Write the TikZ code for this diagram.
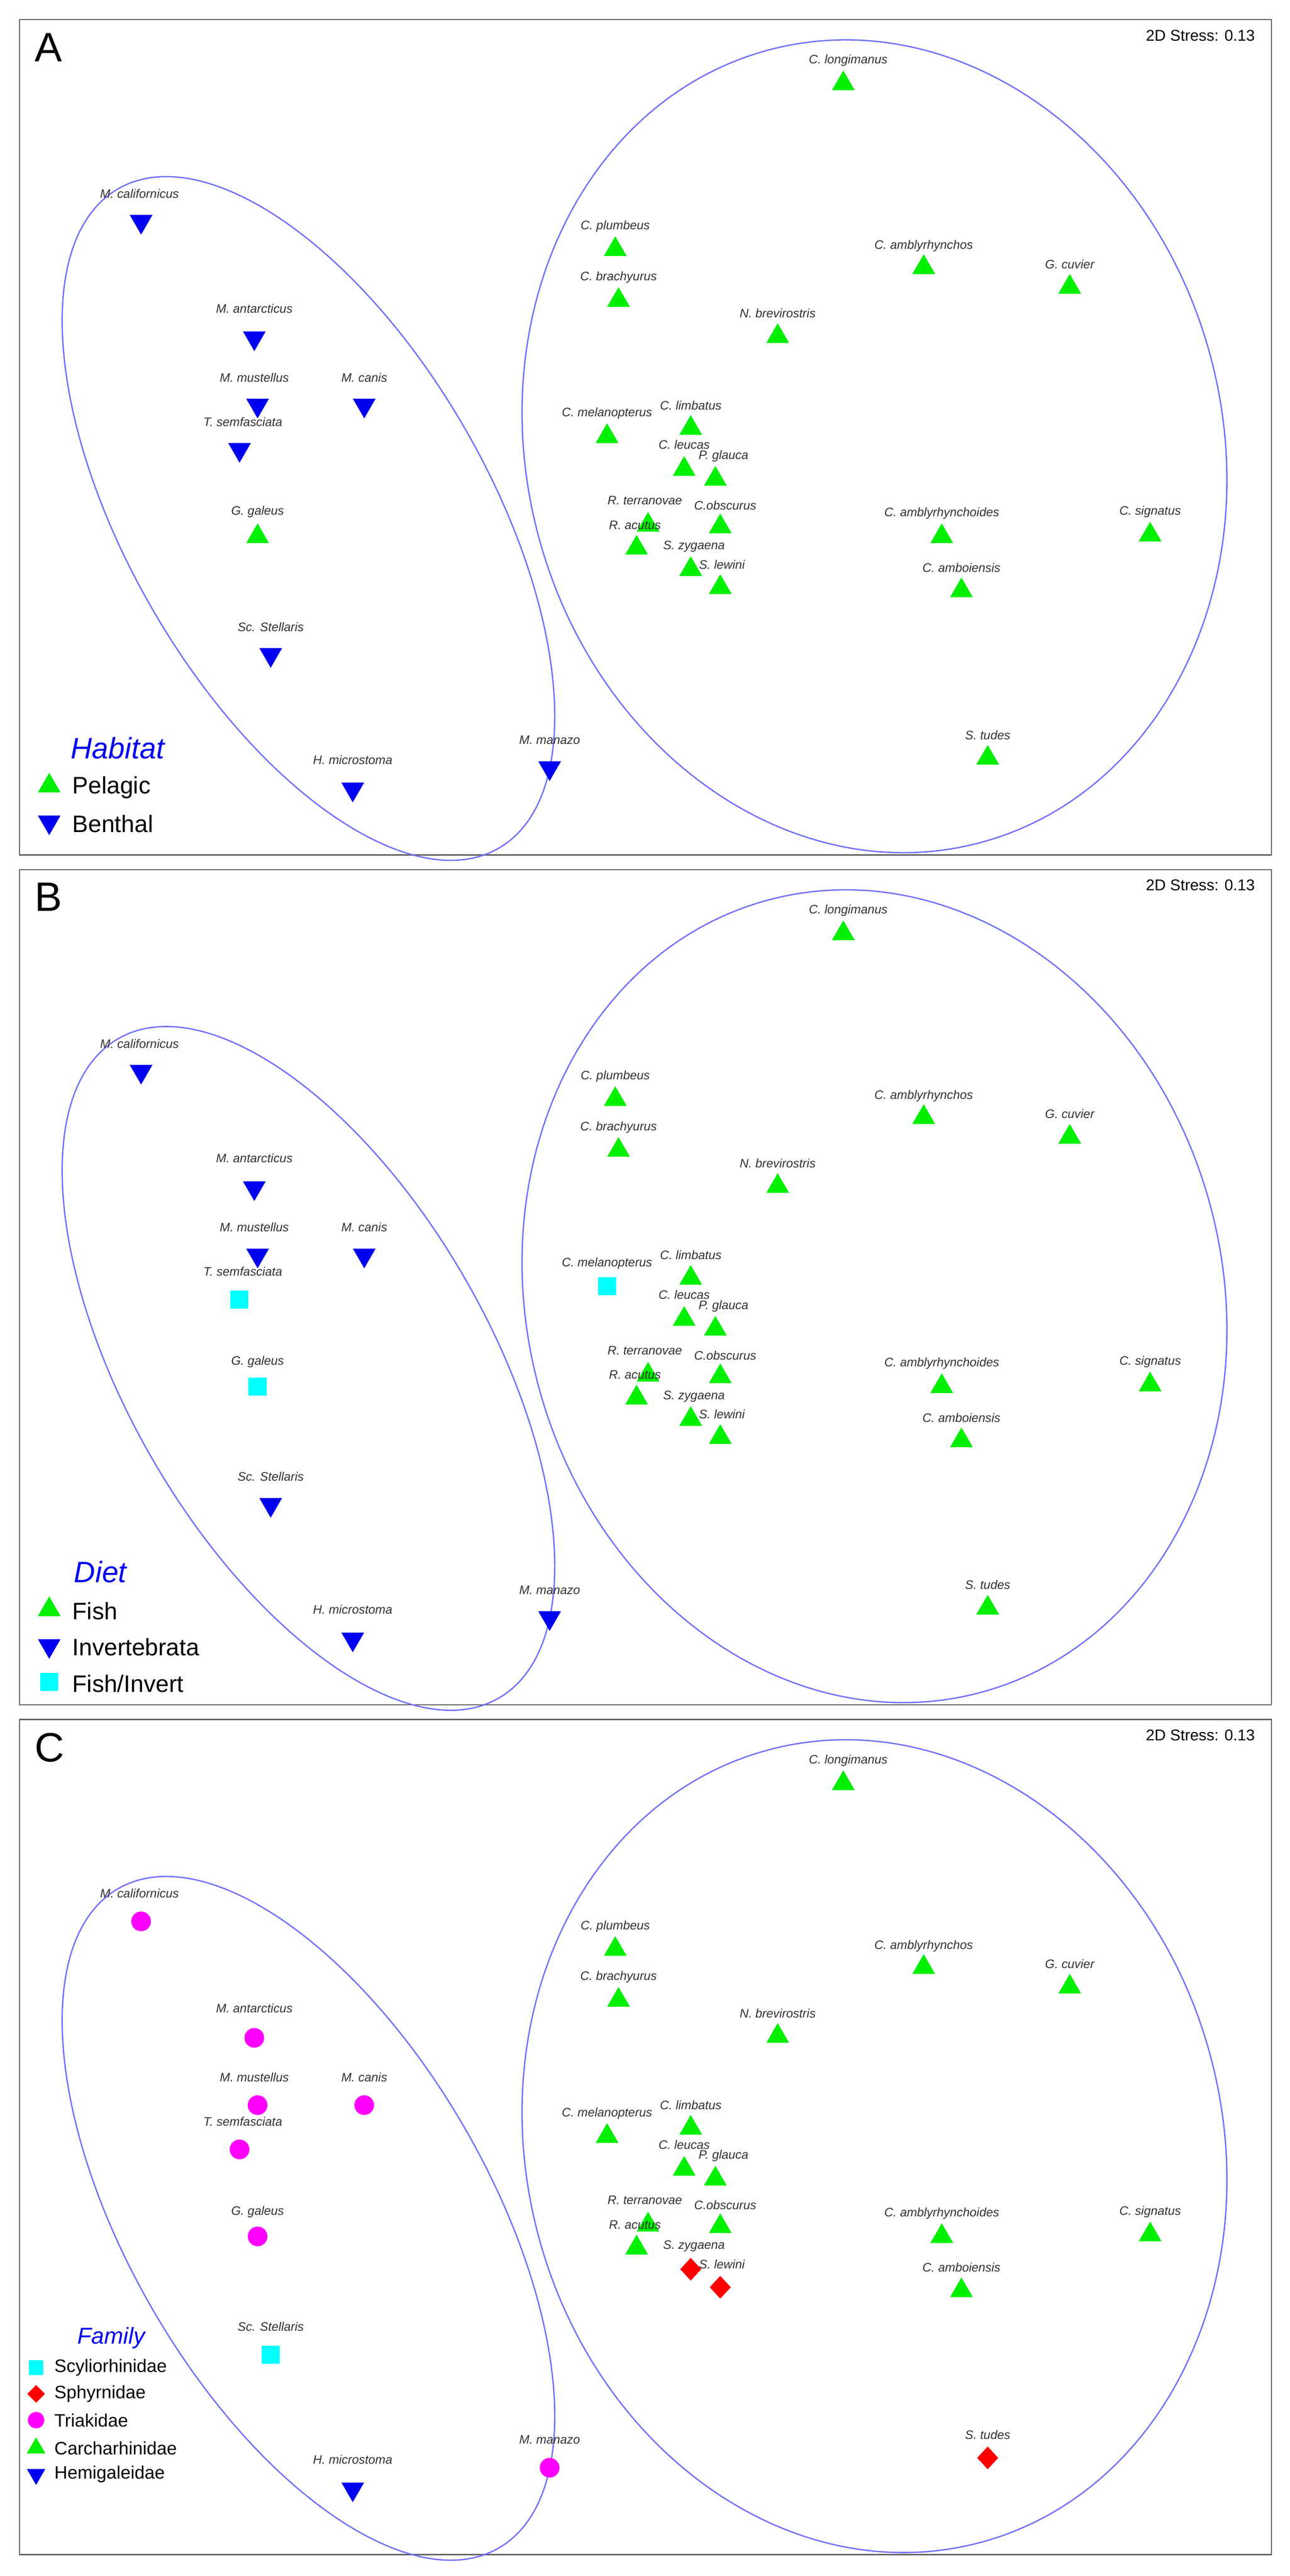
\documentclass[tikz,border=0pt]{standalone}
\usepackage{fontspec}
\setmainfont{Liberation Sans}
\usetikzlibrary{shapes.geometric}
\definecolor{lg}{RGB}{0,240,0}
\definecolor{bl}{RGB}{0,0,240}
\definecolor{cy}{RGB}{0,255,255}
\definecolor{mg}{RGB}{255,0,255}
\definecolor{rd}{RGB}{255,0,0}
\definecolor{ell}{RGB}{110,110,255}
\definecolor{lab}{RGB}{50,50,50}
\tikzset{
 up/.style={regular polygon,regular polygon sides=3,minimum size=16pt,inner sep=0pt,fill=lg,draw=none},
 dn/.style={regular polygon,regular polygon sides=3,shape border rotate=180,minimum size=16pt,inner sep=0pt,fill=bl,draw=none},
 sq/.style={rectangle,minimum size=11pt,inner sep=0pt,fill=cy,draw=none},
 ci/.style={circle,minimum size=12pt,inner sep=0pt,fill=mg,draw=none},
 di/.style={diamond,minimum width=13pt,minimum height=14pt,inner sep=0pt,fill=rd,draw=none},
 sl/.style={font=\fontsize{7.5}{8}\selectfont\itshape,text=lab,inner sep=0pt},
 frame/.style={draw=gray!80!black,line width=0.8pt},
 elli/.style={draw=ell,line width=0.8pt},
 plet/.style={font=\fontsize{25}{27}\selectfont,anchor=north west,inner sep=0pt},
 stress/.style={font=\fontsize{9.5}{10}\selectfont,anchor=north east,inner sep=0pt},
 legt/.style={font=\fontsize{18}{20}\selectfont\itshape,text=bl,anchor=west,inner sep=0pt},
 legi/.style={font=\fontsize{14.5}{16}\selectfont,anchor=west,inner sep=0pt},
 legt2/.style={font=\fontsize{14}{15}\selectfont\itshape,text=bl,anchor=west,inner sep=0pt},
 legi2/.style={font=\fontsize{11}{12}\selectfont,anchor=west,inner sep=0pt},
}
% \spc{id}{label}{x}{y}{lx}{ly}{style}{panel}
\newcommand{\spc}[8]{%
 \node[#7] (#8m#1) at (#3,#4) {};
 \node[sl] (#8l#1) at (#5,#6) {#2};}
\newcommand{\allsp}[1]{%
 \spc{mcal}{M. californicus}{86}{135}{85}{118}{gT}{#1}
 \spc{mant}{M. antarcticus}{155}{206}{155}{188}{gT}{#1}
 \spc{mmus}{M. mustellus}{157}{247}{155}{230}{gT}{#1}
 \spc{mcan}{M. canis}{222}{247}{222}{230}{gT}{#1}
 \spc{tsem}{T. semfasciata}{146}{274}{148}{257}{gS}{#1}
 \spc{ggal}{G. galeus}{157}{327}{157}{312}{gG}{#1}
 \spc{scst}{Sc. Stellaris}{165}{399}{165}{382}{gY}{#1}
 \spc{hmic}{H. microstoma}{215}{481}{215}{463}{gH}{#1}
 \spc{mman}{M. manazo}{335}{468}{335}{451}{gT}{#1}
 \spc{clon}{C. longimanus}{514}{51}{517}{37}{gC}{#1}
 \spc{cplu}{C. plumbeus}{375}{152}{375}{138}{gC}{#1}
 \spc{cbra}{C. brachyurus}{377}{183}{377}{169}{gC}{#1}
 \spc{camb}{C. amblyrhynchos}{563}{163}{563}{150}{gC}{#1}
 \spc{gcuv}{G. cuvier}{652}{175}{652}{161}{gC}{#1}
 \spc{nbre}{N. brevirostris}{474}{205}{474}{191}{gC}{#1}
 \spc{cmel}{C. melanopterus}{370}{266}{370}{252}{gM}{#1}
 \spc{clim}{C. limbatus}{421}{261}{421}{247}{gC}{#1}
 \spc{cleu}{C. leucas}{417}{286}{417}{271}{gC}{#1}
 \spc{pgla}{P. glauca}{436}{292}{441}{278}{gC}{#1}
 \spc{cobs}{C.obscurus}{439}{321}{442}{308}{gC}{#1}
 \spc{rter}{R. terranovae}{395}{320}{393}{305}{gC}{#1}
 \spc{racu}{R. acutus}{388}{334}{387}{320}{gC}{#1}
 \spc{szyg}{S. zygaena}{421}{347}{423}{333}{gZ}{#1}
 \spc{slew}{S. lewini}{439}{358}{440}{344}{gZ}{#1}
 \spc{cabd}{C. amblyrhynchoides}{574}{327}{574}{313}{gC}{#1}
 \spc{csig}{C. signatus}{701}{326}{701}{312}{gC}{#1}
 \spc{camo}{C. amboiensis}{586}{360}{586}{346}{gC}{#1}
 \spc{stud}{S. tudes}{602}{462}{602}{448}{gZ}{#1}
}
\newcommand{\common}[2]{%
 \draw[frame] (12,12) rectangle (775,521);
 \node[plet] (#1let) at (21,20) {#2};
 \node[stress] (#1str) at (765,18) {2D Stress: 0.13};
 \draw[elli,rotate around={-60:(188,316)}] (188,316) ellipse [x radius=232pt,y radius=110pt];
 \draw[elli,rotate around={15:(533,272)}] (533,272) ellipse [x radius=212pt,y radius=250pt];
}
\begin{document}
\begin{tikzpicture}[x=1pt,y=-1pt]
\useasboundingbox (0,0) rectangle (786,1570);
\fill[white] (0,0) rectangle (786,1570);
% Panel A
\begin{scope}[gT/.style={dn},gS/.style={dn},gG/.style={up},gY/.style={dn},gH/.style={dn},gC/.style={up},gM/.style={up},gZ/.style={up}]
 \common{a}{A}
 \allsp{a}
 \node[legt] (aleg) at (43,456) {Habitat};
 \node[up] (alm1) at (30,479) {};
 \node[legi] (alt1) at (44,480) {Pelagic};
 \node[dn] (alm2) at (30,501) {};
 \node[legi] (alt2) at (44,502) {Benthal};
\end{scope}
% Panel B
\begin{scope}[shift={(0,518)},gT/.style={dn},gS/.style={sq},gG/.style={sq},gY/.style={dn},gH/.style={dn},gC/.style={up},gM/.style={sq},gZ/.style={up}]
 \common{b}{B}
 \allsp{b}
 \node[legt] (bleg) at (45,440) {Diet};
 \node[up] (blm1) at (30,463) {};
 \node[legi] (blt1) at (44,464) {Fish};
 \node[dn] (blm2) at (30,485) {};
 \node[legi] (blt2) at (44,486) {Invertebrata};
 \node[sq] (blm3) at (30,507) {};
 \node[legi] (blt3) at (44,508) {Fish/Invert};
\end{scope}
% Panel C
\begin{scope}[shift={(0,1036)},gT/.style={ci},gS/.style={ci},gG/.style={ci},gY/.style={sq},gH/.style={dn},gC/.style={up},gM/.style={up},gZ/.style={di}]
 \common{c}{C}
 \allsp{c}
 \node[legt2] (cleg) at (47,389) {Family};
 \node[sq,minimum size=9pt] (clm1) at (22,407) {};
 \node[legi2] (clt1) at (33,407) {Scyliorhinidae};
 \node[di,minimum width=11pt,minimum height=11pt] (clm2) at (22,423) {};
 \node[legi2] (clt2) at (33,423) {Sphyrnidae};
 \node[ci,minimum size=10pt] (clm3) at (22,439) {};
 \node[legi2] (clt3) at (33,439) {Triakidae};
 \node[up,minimum size=13pt] (clm4) at (22,456) {};
 \node[legi2] (clt4) at (33,456) {Carcharhinidae};
 \node[dn,minimum size=13pt] (clm5) at (22,472) {};
 \node[legi2] (clt5) at (33,472) {Hemigaleidae};
\end{scope}
\end{tikzpicture}
\end{document}
